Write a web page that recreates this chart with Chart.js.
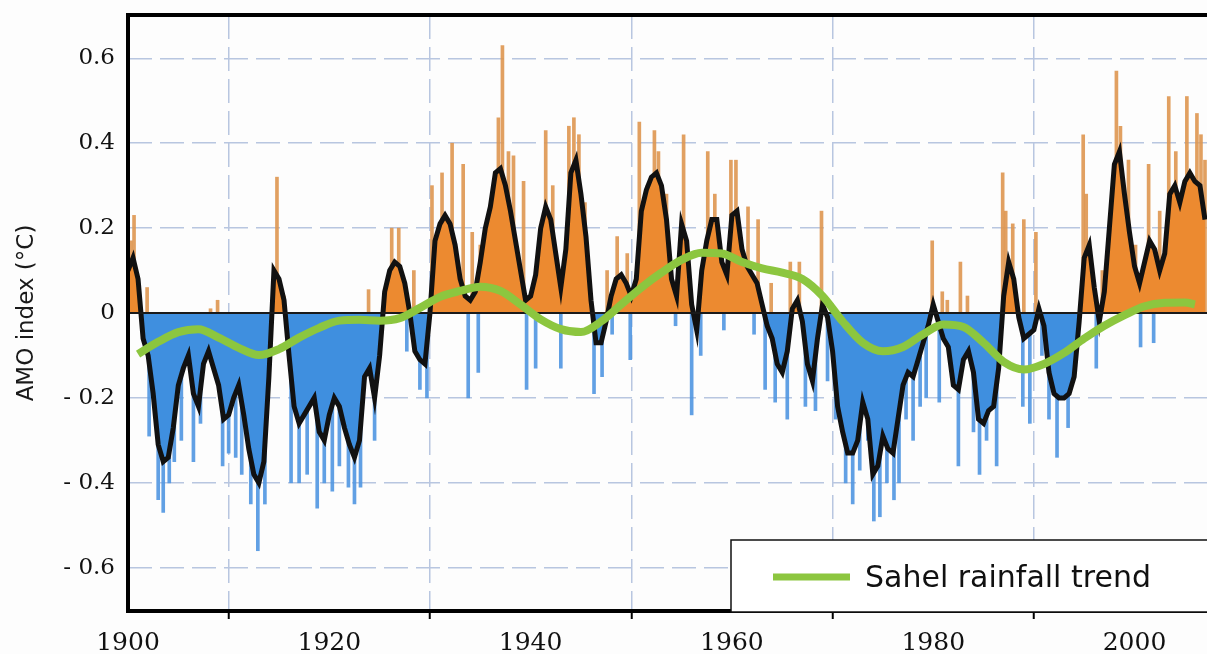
<!DOCTYPE html>
<html>
<head>
<meta charset="utf-8">
<script src="https://cdn.jsdelivr.net/npm/chart.js@4"></script>
<style>
  body { margin: 0; background: #fdfdfd; }
  #wrap { width: 1207px; height: 654px; }
</style>
</head>
<body>
<div id="wrap"><canvas id="amoChart" width="1207" height="654"></canvas></div>
<script>
// smoothed AMO index, every half year from 1900.0
var amoStart = 1900;
var amoStep = 0.5;
var amoValues = [
  0.10, 0.13, 0.08, -0.06, -0.10, -0.19, -0.31, -0.35, -0.34, -0.27,
  -0.17, -0.13, -0.10, -0.19, -0.22, -0.12, -0.09, -0.13, -0.17, -0.25,
  -0.24, -0.20, -0.17, -0.24, -0.32, -0.38, -0.40, -0.35, -0.15, 0.10,
  0.08, 0.03, -0.10, -0.22, -0.26, -0.24, -0.22, -0.20, -0.28, -0.30,
  -0.24, -0.20, -0.22, -0.27, -0.31, -0.34, -0.30, -0.15, -0.13, -0.20,
  -0.10, 0.05, 0.10, 0.12, 0.11, 0.07, 0.00, -0.09, -0.11, -0.12,
  0.00, 0.17, 0.21, 0.23, 0.21, 0.16, 0.08, 0.04, 0.03, 0.05,
  0.12, 0.20, 0.25, 0.33, 0.34, 0.30, 0.24, 0.17, 0.10, 0.03,
  0.04, 0.09, 0.20, 0.25, 0.22, 0.14, 0.06, 0.15, 0.33, 0.36,
  0.28, 0.18, 0.03, -0.07, -0.07, -0.02, 0.04, 0.08, 0.09, 0.07,
  0.04, 0.08, 0.24, 0.29, 0.32, 0.33, 0.30, 0.22, 0.08, 0.04,
  0.21, 0.17, 0.02, -0.04, 0.10, 0.17, 0.22, 0.22, 0.12, 0.09,
  0.23, 0.24, 0.15, 0.11, 0.09, 0.07, 0.02, -0.03, -0.06, -0.12,
  -0.14, -0.09, 0.01, 0.03, -0.02, -0.12, -0.16, -0.06, 0.02, -0.01,
  -0.09, -0.22, -0.28, -0.33, -0.33, -0.30, -0.21, -0.25, -0.38, -0.36,
  -0.29, -0.32, -0.33, -0.25, -0.17, -0.14, -0.15, -0.11, -0.07, -0.03,
  0.02, -0.02, -0.06, -0.08, -0.17, -0.18, -0.11, -0.09, -0.14, -0.25,
  -0.26, -0.23, -0.22, -0.13, 0.04, 0.12, 0.08, -0.01, -0.06, -0.05,
  -0.04, 0.01, -0.03, -0.14, -0.19, -0.20, -0.20, -0.19, -0.15, -0.02,
  0.13, 0.16, 0.06, -0.02, 0.05, 0.20, 0.35, 0.38, 0.28, 0.19,
  0.11, 0.07, 0.12, 0.17, 0.15, 0.10, 0.14, 0.28, 0.30, 0.26,
  0.31, 0.33, 0.31, 0.30, 0.22
];

// raw monthly spikes that stick out beyond the smoothed curve
var spikeYears = [
  1900.3, 1900.6, 1901.9, 1902.1, 1903.0, 1903.5, 1904.1, 1904.6, 1905.3, 1906.5,
  1907.2, 1908.2, 1908.9, 1909.4, 1910.0, 1910.7, 1911.3, 1912.2, 1912.9, 1913.6,
  1914.8, 1915.5, 1916.2, 1917.0, 1917.8, 1918.8, 1919.5, 1920.3, 1921.0, 1921.9,
  1922.5, 1923.1, 1923.9, 1924.5, 1925.6, 1926.2, 1926.9, 1927.7, 1928.4, 1929.0,
  1929.7, 1930.2, 1931.2, 1932.2, 1933.3, 1933.8, 1934.2, 1934.8, 1935.0, 1936.2,
  1936.8, 1937.2, 1937.8, 1938.3, 1939.3, 1939.6, 1940.5, 1941.5, 1942.2, 1943.0,
  1943.8, 1944.3, 1944.8, 1945.4, 1946.3, 1947.1, 1947.6, 1948.1, 1948.6, 1949.6,
  1949.9, 1950.8, 1951.6, 1952.3, 1952.7, 1953.5, 1954.4, 1955.2, 1956.0, 1956.9,
  1957.6, 1958.3, 1959.2, 1959.9, 1960.4, 1961.6, 1962.2, 1962.6, 1963.3, 1963.9,
  1964.3, 1965.5, 1965.8, 1966.7, 1967.3, 1968.3, 1968.9, 1969.5, 1970.3, 1971.3,
  1972.0, 1972.7, 1973.5, 1974.1, 1974.7, 1975.4, 1976.1, 1976.6, 1977.3, 1978.0,
  1978.7, 1979.3, 1979.9, 1980.6, 1980.9, 1981.4, 1982.5, 1982.7, 1983.4, 1984.0,
  1984.6, 1985.3, 1986.3, 1986.9, 1987.2, 1987.9, 1988.9, 1989.0, 1989.6, 1990.2,
  1990.8, 1991.5, 1992.3, 1993.4, 1994.9, 1995.2, 1996.2, 1996.8, 1998.2, 1998.6,
  1999.4, 2000.1, 2000.6, 2001.4, 2001.9, 2002.5, 2003.4, 2004.1, 2005.2, 2006.2,
  2006.6, 2007.0
];
var spikeValues = [
  0.17, 0.23, 0.06, -0.29, -0.44, -0.47, -0.40, -0.35, -0.30, -0.35,
  -0.26, 0.01, 0.03, -0.36, -0.33, -0.34, -0.38, -0.45, -0.56, -0.45,
  0.32, 0.04, -0.40, -0.40, -0.38, -0.46, -0.40, -0.42, -0.36, -0.41,
  -0.45, -0.41, 0.055, -0.30, 0.05, 0.20, 0.20, -0.09, 0.10, -0.18,
  -0.20, 0.30, 0.33, 0.40, 0.35, -0.20, 0.19, -0.14, 0.16, 0.23,
  0.46, 0.63, 0.38, 0.37, 0.31, -0.18, -0.13, 0.43, 0.30, -0.13,
  0.44, 0.46, 0.42, 0.26, -0.19, -0.15, 0.10, -0.05, 0.18, 0.14,
  -0.11, 0.45, 0.30, 0.43, 0.38, 0.28, -0.03, 0.42, -0.24, -0.10,
  0.38, 0.28, -0.04, 0.36, 0.36, 0.25, -0.05, 0.22, -0.18, 0.07,
  -0.21, -0.25, 0.12, 0.12, -0.22, -0.23, 0.24, -0.16, -0.25, -0.40,
  -0.45, -0.37, -0.30, -0.49, -0.48, -0.40, -0.44, -0.40, -0.25, -0.30,
  -0.22, -0.20, 0.17, -0.21, 0.05, 0.03, -0.36, 0.12, 0.04, -0.28,
  -0.38, -0.30, -0.36, 0.33, 0.24, 0.21, -0.22, 0.22, -0.26, 0.19,
  -0.10, -0.25, -0.34, -0.27, 0.42, 0.28, -0.13, 0.10, 0.57, 0.44,
  0.36, 0.16, -0.08, 0.35, -0.07, 0.24, 0.51, 0.38, 0.51, 0.47,
  0.42, 0.36
];

// Sahel rainfall trend (scaled onto the AMO axis)
var trendYears = [
  1901, 1903, 1905, 1907, 1909, 1911, 1913, 1915, 1917, 1919,
  1921, 1923, 1925, 1927, 1929, 1931, 1933, 1935, 1937, 1939,
  1941, 1943, 1945, 1947, 1949, 1951, 1953, 1955, 1957, 1959,
  1961, 1963, 1965, 1967, 1969, 1971, 1973, 1975, 1977, 1979,
  1981, 1983, 1985, 1987, 1989, 1991, 1993, 1995, 1997, 1999,
  2001, 2003, 2005, 2006
];
var trendValues = [
  -0.097, -0.068, -0.045, -0.038, -0.058, -0.082, -0.099, -0.085, -0.058, -0.035,
  -0.018, -0.016, -0.018, -0.012, 0.012, 0.038, 0.052, 0.062, 0.052, 0.020,
  -0.015, -0.038, -0.045, -0.020, 0.020, 0.060, 0.095, 0.125, 0.142, 0.140,
  0.120, 0.105, 0.095, 0.080, 0.040, -0.020, -0.070, -0.090, -0.080, -0.050,
  -0.027, -0.033, -0.070, -0.115, -0.133, -0.120, -0.094, -0.060, -0.030, -0.005,
  0.016, 0.024, 0.025, 0.020
];

var xTicks = [1900, 1920, 1940, 1960, 1980, 2000];
var yTicks = [-0.6, -0.4, -0.2, 0, 0.2, 0.4, 0.6];
var yTickLabels = ["- 0.6", "- 0.4", "- 0.2", "0", "0.2", "0.4", "0.6"];
var legendLabel = "Sahel rainfall trend";

var ORANGE = "#ec8a30";
var BLUE = "#3f8fdf";
var GREEN = "#8cc63f";
var GRID = "#b8c6e0";

var amoPoints = amoValues.map(function (v, i) {
  return { x: amoStart + i * amoStep, y: v };
});
var spikePoints = spikeValues.map(function (v, i) {
  return { x: spikeYears[i], y: v };
});
var trendPoints = trendValues.map(function (v, i) {
  return { x: trendYears[i], y: v };
});

var framePlugin = {
  id: "frame",
  afterDatasetDraw: function (chart, args) {
    if (args.index !== 1) return;
    // zero line
    var ctx = chart.ctx;
    var a = chart.chartArea;
    var y0 = chart.scales.y.getPixelForValue(0);
    ctx.save();
    ctx.strokeStyle = "#1a1a1a";
    ctx.lineWidth = 2;
    ctx.beginPath();
    ctx.moveTo(a.left, y0);
    ctx.lineTo(a.right, y0);
    ctx.stroke();
    ctx.restore();
  },
  afterDraw: function (chart) {
    var ctx = chart.ctx;
    var a = chart.chartArea;
    ctx.save();
    ctx.strokeStyle = "#000";
    ctx.lineWidth = 4;
    ctx.beginPath();
    ctx.moveTo(a.right + 2, a.top);
    ctx.lineTo(a.left, a.top);
    ctx.lineTo(a.left, a.bottom);
    ctx.lineTo(a.right + 2, a.bottom);
    ctx.stroke();

    // legend box
    var lx = a.left + 603;
    var ly = a.bottom - 71;
    ctx.fillStyle = "#ffffff";
    ctx.fillRect(lx, ly, a.right - lx + 10, 72);
    ctx.lineWidth = 1.5;
    ctx.strokeStyle = "#111";
    ctx.strokeRect(lx, ly, a.right - lx + 10, 72);
    ctx.strokeStyle = GREEN;
    ctx.lineWidth = 7;
    ctx.beginPath();
    ctx.moveTo(lx + 42, ly + 37);
    ctx.lineTo(lx + 119, ly + 37);
    ctx.stroke();
    ctx.fillStyle = "#111";
    ctx.font = "30px 'DejaVu Sans'";
    ctx.textBaseline = "alphabetic";
    ctx.fillText(legendLabel, lx + 134, ly + 47);
    ctx.restore();
  }
};

var ctx = document.getElementById("amoChart");

var chart = new Chart(ctx, {
  type: "line",
  data: {
    datasets: [
      {
        type: "bar",
        label: "AMO monthly",
        data: spikePoints,
        backgroundColor: spikeValues.map(function (v) {
          return v >= 0 ? "rgba(222,150,80,0.9)" : "rgba(80,150,225,0.9)";
        }),
        barThickness: 3,
        order: 3
      },
      {
        label: "AMO index",
        data: amoPoints,
        borderColor: "#111",
        borderWidth: 5,
        pointRadius: 0,
        tension: 0,
        fill: { target: "origin", above: ORANGE, below: BLUE },
        order: 2
      },
      {
        label: legendLabel,
        data: trendPoints,
        borderColor: GREEN,
        borderWidth: 8,
        pointRadius: 0,
        cubicInterpolationMode: "monotone",
        fill: false,
        order: 1
      }
    ]
  },
  options: {
    responsive: false,
    animation: false,
    layout: { padding: { top: 15, right: 0, left: 0, bottom: 0 } },
    plugins: {
      legend: { display: false },
      tooltip: { enabled: false }
    },
    scales: {
      x: {
        type: "linear",
        min: 1900,
        max: 2007.2,
        offset: false,
        afterFit: function (scale) { scale.height = 43; },
        afterBuildTicks: function (scale) {
          scale.ticks = xTicks.map(function (v) { return { value: v }; });
        },
        grid: {
          color: function (c) { return c.tick && c.tick.value === 1900 ? "rgba(0,0,0,0)" : GRID; },
          lineWidth: 1.5,
          tickColor: "#000",
          tickWidth: 2,
          tickLength: 8
        },
        border: { display: false, dash: [24, 8] },
        ticks: {
          padding: 9,
          maxRotation: 0,
          color: "#111",
          font: { family: "'DejaVu Serif'", size: 25 },
          callback: function (v) { return String(v); }
        }
      },
      y: {
        min: -0.702,
        max: 0.702,
        afterFit: function (scale) {
          scale.width = 128;
          scale.paddingTop = 0;
          scale.paddingBottom = 0;
        },
        afterBuildTicks: function (scale) {
          scale.ticks = yTicks.map(function (v) { return { value: v }; });
        },
        grid: {
          color: function (c) { return c.tick && c.tick.value === 0 ? "rgba(0,0,0,0)" : GRID; },
          lineWidth: 1.5,
          drawTicks: false
        },
        border: { display: false, dash: [24, 8] },
        ticks: {
          padding: 13,
          color: "#111",
          font: { family: "'DejaVu Serif'", size: 23 },
          callback: function (v, i) { return yTickLabels[i]; }
        },
        title: {
          display: true,
          text: "AMO index (°C)",
          color: "#1a1a1a",
          font: { family: "'DejaVu Sans'", size: 23 },
          padding: { top: 13, bottom: 0 }
        }
      }
    }
  },
  plugins: [framePlugin]
});
</script>
</body>
</html>
